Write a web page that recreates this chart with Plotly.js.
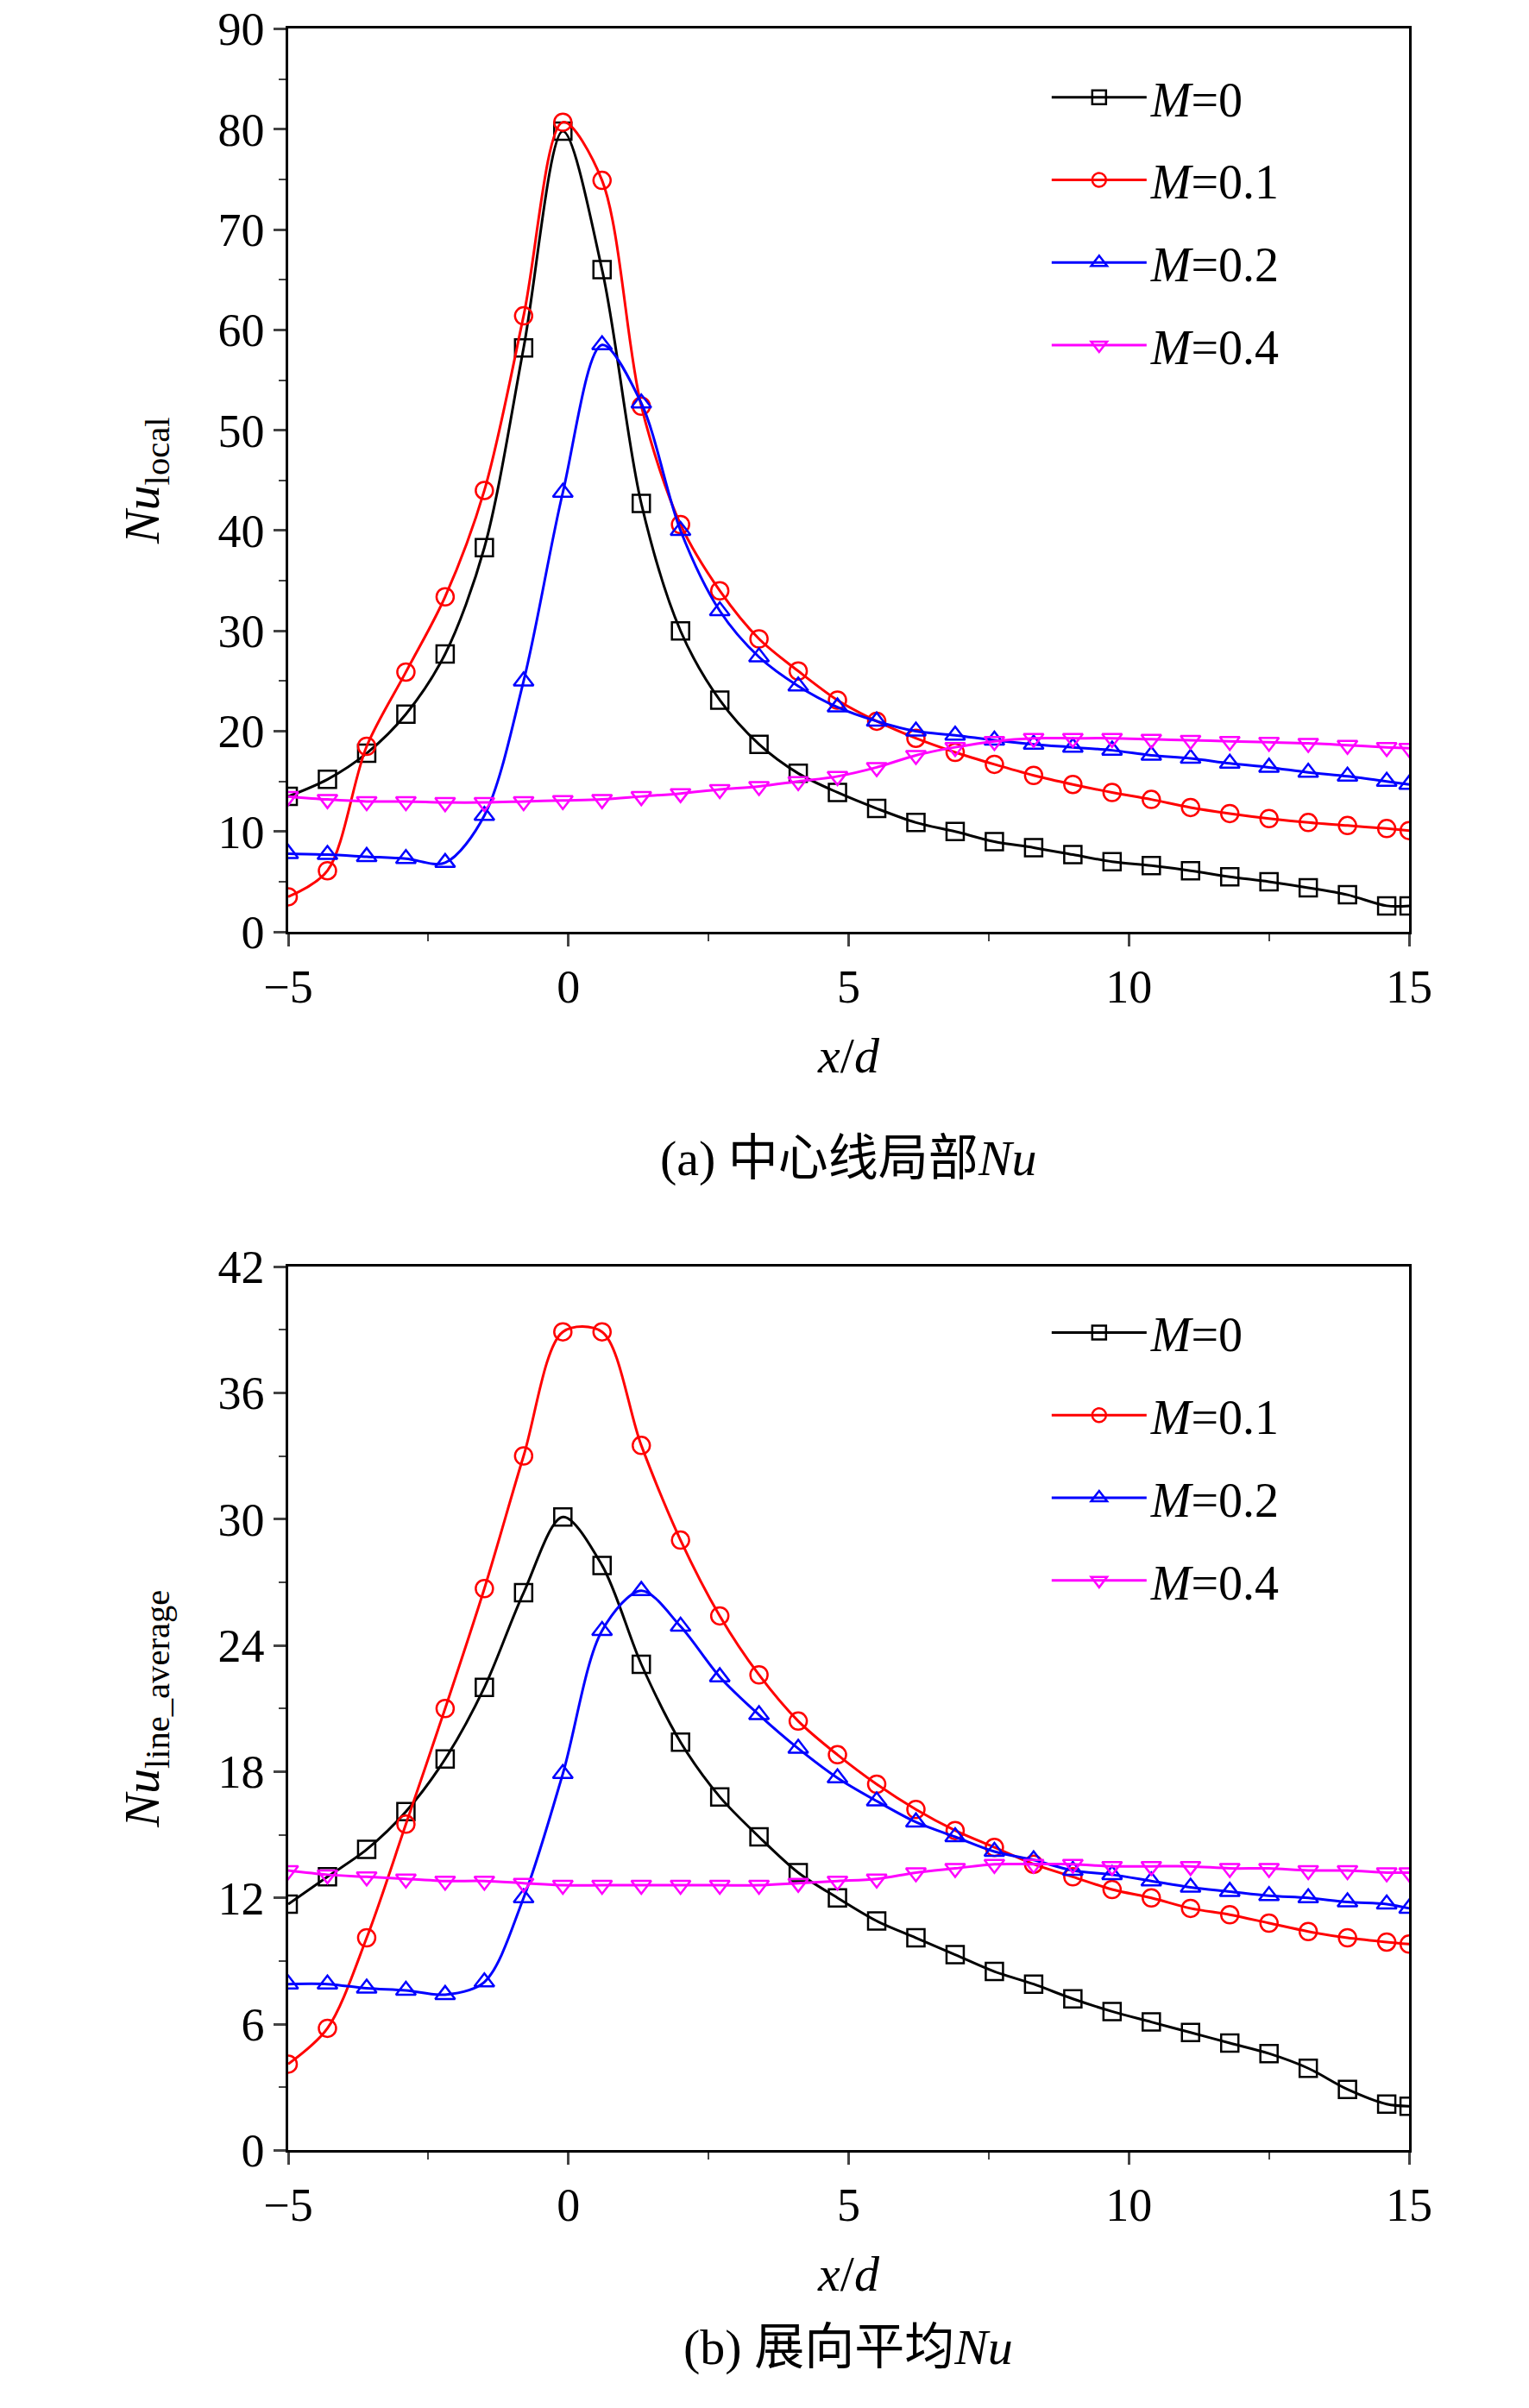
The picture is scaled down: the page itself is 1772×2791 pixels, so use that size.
<!DOCTYPE html>
<html>
<head>
<meta charset="utf-8">
<script src="https://cdn.plot.ly/plotly-3.0.1.min.js"></script>
<style>body{margin:0;background:#fff;}</style>
</head>
<body>
<div id="chart" style="width:1772px;height:2791px;"></div>
<script>
// --- DATA ---
const xPos = [-5,-4.3,-3.6,-2.9,-2.2,-1.5,-0.8,-0.1,0.6,1.3,2.0,2.7,3.4,4.1,4.8,5.5,6.2,6.9,7.6,8.3,9.0,9.7,10.4,11.1,11.8,12.5,13.2,13.9,14.6,15];

// (a) centre-line local Nu
const localM0  = [13.5,15.2,17.8,21.7,27.7,38.3,58.2,79.8,66,42.7,30,23.1,18.7,15.8,13.9,12.3,10.9,10,9,8.4,7.7,7,6.6,6.1,5.5,5,4.4,3.7,2.6,2.6];
const localM01 = [3.5,6.1,18.5,25.9,33.4,44,61.4,80.7,74.9,52.4,40.6,34,29.2,26,23.1,21,19.3,17.9,16.7,15.6,14.7,13.9,13.2,12.4,11.8,11.3,10.9,10.6,10.3,10.1];
const localM02 = [7.8,7.7,7.5,7.3,6.9,11.6,25,43.8,58.5,52.7,40,32,27.4,24.5,22.4,21,20,19.6,19.1,18.7,18.4,18.1,17.6,17.3,16.8,16.4,15.9,15.5,15,14.7];
const localM04 = [13.5,13.2,13.0,13.0,12.9,12.9,13.0,13.1,13.2,13.5,13.8,14.2,14.5,15,15.5,16.4,17.6,18.4,19,19.3,19.3,19.3,19.2,19.1,19,18.9,18.8,18.6,18.4,18.3];

// (b) spanwise-averaged Nu
const avgM0  = [11.7,13,14.3,16.1,18.6,22,26.5,30.1,27.8,23.1,19.4,16.8,14.9,13.2,12,10.9,10.1,9.3,8.5,7.9,7.2,6.6,6.1,5.6,5.1,4.6,3.9,2.9,2.2,2.1];
const avgM01 = [4.1,5.8,10.1,15.5,21,26.7,33,38.9,38.9,33.5,29,25.4,22.6,20.4,18.8,17.4,16.2,15.2,14.4,13.6,13,12.4,12,11.5,11.2,10.8,10.4,10.1,9.9,9.8];
const avgM02 = [7.9,7.9,7.7,7.6,7.4,8,12,17.9,24.7,26.6,24.9,22.5,20.7,19.1,17.7,16.6,15.6,14.9,14.2,13.8,13.3,13.1,12.8,12.5,12.3,12.1,12,11.8,11.7,11.5];
const avgM04 = [13.3,13.1,13.0,12.9,12.8,12.8,12.7,12.6,12.6,12.6,12.6,12.6,12.6,12.7,12.8,12.9,13.2,13.4,13.6,13.6,13.6,13.5,13.5,13.5,13.4,13.4,13.3,13.3,13.2,13.2];

const seriesNames = ['<i>M</i>=0','<i>M</i>=0.1','<i>M</i>=0.2','<i>M</i>=0.4'];
const colors = ['#000000','#ff0000','#0000ff','#ff00ff'];
const symbols = ['square-open','circle-open','triangle-up-open','triangle-down-open'];

const FONT = 'Liberation Serif, Times New Roman, serif';

function makeTraces(sets, xa, ya, legend) {
	return sets.map((y, i) => ({
		x: xPos, y: y, xaxis: xa, yaxis: ya, legend: legend, legendgroup: legend + i,
		name: seriesNames[i], type: 'scatter', mode: 'lines+markers',
		line: { color: colors[i], width: 3, shape: 'spline', smoothing: 0.9 },
		marker: { symbol: symbols[i], size: 20, color: colors[i], line: { width: 2.5, color: colors[i] } }
	}));
}

const traces = [
	...makeTraces([localM0, localM01, localM02, localM04], 'x', 'y', 'legend'),
	...makeTraces([avgM0, avgM01, avgM02, avgM04], 'x2', 'y2', 'legend2')
];

const xCommon = {
	range: [-5, 15], tickvals: [-5, 0, 5, 10, 15], ticks: 'outside', ticklen: 14, tickwidth: 2.5,
	minor: { dtick: 2.5, ticks: 'outside', ticklen: 8, tickwidth: 2 },
	showline: true, linecolor: '#000', linewidth: 2.5, mirror: true, showgrid: false, zeroline: false,
	tickfont: { family: FONT, size: 54, color: '#000' },
	title: { text: '<i>x</i>/<i>d</i>', font: { family: FONT, size: 58, color: '#000' }, standoff: 30 }
};
const yCommon = {
	ticks: 'outside', ticklen: 14, tickwidth: 2.5,
	showline: true, linecolor: '#000', linewidth: 2.5, mirror: true, showgrid: false, zeroline: false,
	tickfont: { family: FONT, size: 54, color: '#000' }
};
const legendCommon = {
	xanchor: 'left', yanchor: 'top', bgcolor: 'rgba(0,0,0,0)', traceorder: 'grouped', tracegroupgap: 20,
	font: { family: FONT, size: 56, color: '#000' }, itemwidth: 110
};

const layout = {
	width: 1772, height: 2791, paper_bgcolor: '#fff', plot_bgcolor: '#fff',
	margin: { l: 0, r: 0, t: 0, b: 0 }, showlegend: true,
	xaxis: Object.assign({}, xCommon, { domain: [0.1885, 0.9216], anchor: 'y' }),
	yaxis: Object.assign({}, yCommon, { domain: [0.613, 0.988], anchor: 'x', range: [0, 90], dtick: 10,
		minor: { dtick: 5, ticks: 'outside', ticklen: 8, tickwidth: 2 },
		title: { text: '<i>Nu</i><sub>local</sub>', font: { family: FONT, size: 58, color: '#000' }, standoff: 50 } }),
	xaxis2: Object.assign({}, xCommon, { domain: [0.1885, 0.9216], anchor: 'y2' }),
	yaxis2: Object.assign({}, yCommon, { domain: [0.107, 0.474], anchor: 'x2', range: [0, 42], dtick: 6,
		minor: { dtick: 3, ticks: 'outside', ticklen: 8, tickwidth: 2 },
		title: { text: '<i>Nu</i><sub>line_average</sub>', font: { family: FONT, size: 58, color: '#000' }, standoff: 50 } }),
	legend: Object.assign({}, legendCommon, { x: 0.685, y: 0.975 }),
	legend2: Object.assign({}, legendCommon, { x: 0.685, y: 0.462 }),
	annotations: [
		{ text: '(a) 中心线局部<i>Nu</i>', xref: 'paper', yref: 'paper', x: 0.555, y: 0.519, showarrow: false,
		  font: { family: 'Liberation Serif, Noto Sans CJK SC', size: 58, color: '#000' } },
		{ text: '(b) 展向平均<i>Nu</i>', xref: 'paper', yref: 'paper', x: 0.555, y: 0.013, showarrow: false,
		  font: { family: 'Liberation Serif, Noto Sans CJK SC', size: 58, color: '#000' } }
	]
};

Plotly.newPlot('chart', traces, layout, { displayModeBar: false });
</script>
</body>
</html>
